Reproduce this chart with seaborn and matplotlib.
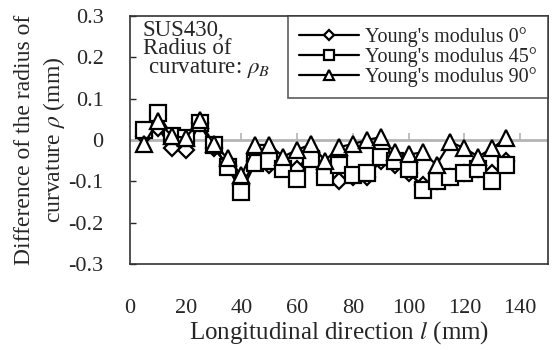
import matplotlib
matplotlib.use("Agg")
import matplotlib.pyplot as plt
import seaborn as sns
import pandas as pd

sns.set_theme(style="white")
plt.rcParams["font.family"] = ["Liberation Serif", "DejaVu Serif"]
plt.rcParams["mathtext.fontset"] = "stix"

# Longitudinal position (mm)
position = [5, 10, 15, 20, 25, 30, 35, 40, 45, 50, 55, 60, 65, 70,
            75, 80, 85, 90, 95, 100, 105, 110, 115, 120, 125, 130, 135]

# Difference of the radius of curvature (mm) per Young's modulus direction
diff_0 = [0.010, 0.030, -0.020, -0.025, 0.040, -0.020, -0.060, -0.110, -0.050,
          -0.060, -0.065, -0.070, -0.030, -0.080, -0.100, -0.090, -0.090, -0.050,
          -0.060, -0.080, -0.110, -0.100, -0.090, -0.080, -0.070, -0.080, -0.050]
diff_45 = [0.025, 0.065, 0.010, 0.005, 0.040, -0.012, -0.065, -0.125, -0.055,
           -0.050, -0.070, -0.095, -0.045, -0.090, -0.060, -0.085, -0.080, -0.040,
           -0.050, -0.070, -0.120, -0.100, -0.090, -0.080, -0.070, -0.100, -0.060]
diff_90 = [-0.010, 0.045, 0.010, 0.005, 0.048, -0.010, -0.044, -0.085, -0.012,
           -0.012, -0.040, -0.024, -0.010, -0.050, -0.017, -0.010, 0.000, 0.007,
           -0.030, -0.035, -0.030, -0.060, -0.005, -0.020, -0.040, -0.020, 0.005]

labels = ["Young's modulus 0°", "Young's modulus 45°", "Young's modulus 90°"]
markers = ["D", "s", "^"]
sizes = [8.5, 11, 12]

x_ticks = [0, 20, 40, 60, 80, 100, 120, 140]
y_ticks = [-0.3, -0.2, -0.1, 0.0, 0.1, 0.2, 0.3]
y_tick_labels = ["-0.3", "-0.2", "-0.1", "0", "0.1", "0.2", "0.3"]

fig = plt.figure(figsize=(5.55, 3.5), dpi=100)
ax = fig.add_axes([130 / 555, 1 - 264 / 350, 418 / 555, 248 / 350])

# zero reference line with small tick marks
ax.axhline(0, color="#b4b4b4", lw=2, zorder=1)
ax.plot(x_ticks[1:], [0] * (len(x_ticks) - 1), ls="none", marker=2,
        color="#b4b4b4", markersize=5, mew=1.2, zorder=1)

for vals, lab, mk, ms in zip([diff_0, diff_45, diff_90], labels, markers, sizes):
    df = pd.DataFrame({"l": position, "d": vals})
    sns.lineplot(data=df, x="l", y="d", ax=ax, color="black", lw=1.6,
                 marker=mk, markersize=ms, markerfacecolor="white",
                 markeredgecolor="black", markeredgewidth=1.6, label=lab,
                 zorder=3)

ax.set_xlim(0, 150)
ax.set_ylim(-0.3, 0.3)
ax.set_xticks(x_ticks)
ax.set_yticks(y_ticks)
ax.set_yticklabels(y_tick_labels)
ax.tick_params(axis="x", length=0, pad=25, labelsize=16)
ax.tick_params(axis="y", direction="in", length=4, width=1, pad=19,
               labelsize=16, left=True)

for s in ax.spines.values():
    s.set_color("#333333")
    s.set_linewidth(1.2)

ax.set_xlabel(r"Longitudinal direction $l$ (mm)", fontsize=18, labelpad=1)
ax.set_ylabel("Difference of the radius of\n" + r"curvature $\rho$ (mm)",
              fontsize=17, labelpad=1, linespacing=1.3)

ax.text(0.03, 0.985, "SUS430,\nRadius of\n" + r" curvature: $\rho_B$",
        transform=ax.transAxes, ha="left", va="top", fontsize=16.5,
        linespacing=0.85)

leg = ax.legend(loc="upper right", bbox_to_anchor=(1.0, 1.0),
                borderaxespad=0, fontsize=14.5, frameon=True, fancybox=False,
                handlelength=3.0, labelspacing=0.0, handletextpad=0.3,
                borderpad=0.55, markerscale=0.6)
leg.get_frame().set_edgecolor("#333333")
leg.get_frame().set_linewidth(1.2)

fig.savefig("out.png", dpi=100)
